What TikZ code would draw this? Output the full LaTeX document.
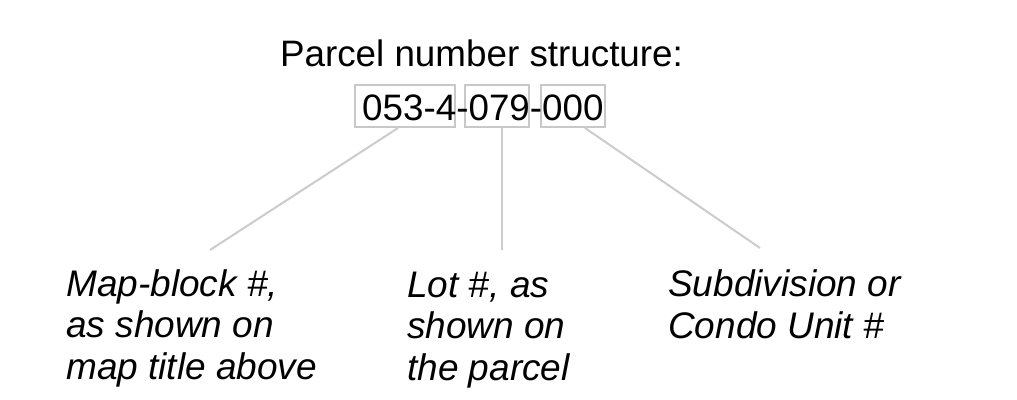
\documentclass[tikz,border=0pt]{standalone}
\usepackage{fontspec}
\setmainfont{Liberation Sans}
\definecolor{boxgray}{HTML}{C8C8C8}
\definecolor{linegray}{HTML}{CCCCCC}
\begin{document}
\begin{tikzpicture}[x=1pt,y=-1pt,
  numbox/.style={draw=boxgray,line width=2pt,inner sep=0pt,minimum height=42pt},
  leader/.style={draw=linegray,line width=2pt},
  label/.style={anchor=base west,align=left,inner sep=0pt,
    font=\fontsize{37}{41.5}\selectfont\itshape},
  title/.style={inner sep=0pt,font=\fontsize{36.8}{40}\selectfont}]
\useasboundingbox[fill=white] (0,0) rectangle (1017,399);
\node[title,anchor=base] (title) at (481.5,66) {Parcel number structure:};
\node[numbox,minimum width=100pt] (b1) at (405,106) {};
\node[numbox,minimum width=64pt] (b2) at (497,106) {};
\node[numbox,minimum width=64pt] (b3) at (573,106) {};
\node[title,anchor=base west] (num) at (362,120) {053-4-079-000};
\coordinate (e1) at (210,250);
\coordinate (e2) at (502,250);
\coordinate (e3) at (760,248);
\draw[leader] (b1.south -| 398,0) -- (e1);
\draw[leader] (b2.south -| 502,0) -- (e2);
\draw[leader] (b3.south -| 585,0) -- (e3);
\node[label] (l1) at (66,379) {Map-block \#,\\as shown on\\map title above};
\node[label] (l2) at (407,380) {Lot \#, as\\shown on\\the parcel};
\node[label] (l3) at (668,338) {Subdivision or\\Condo Unit \#};
\end{tikzpicture}
\end{document}
